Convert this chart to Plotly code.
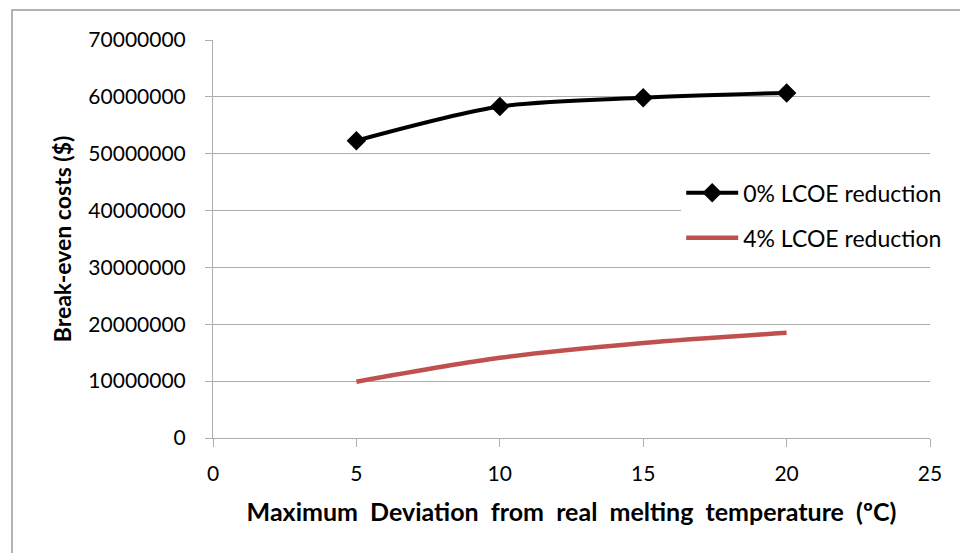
import plotly.graph_objects as go

x_vals = [5, 10, 15, 20]
lcoe0 = [52300000, 58300000, 59850000, 60700000]
lcoe4 = [9900000, 14100000, 16700000, 18500000]
names = ["0% LCOE reduction", "4% LCOE reduction"]
y_ticks = [0, 10000000, 20000000, 30000000, 40000000, 50000000, 60000000, 70000000]
x_ticks = [0, 5, 10, 15, 20, 25]
x_title = "Maximum Deviation from real melting temperature (ºC)"
y_title = "Break-even costs ($)"

FONT = "Lato"
GRID = "#ADADAD"

fig = go.Figure()
fig.add_trace(go.Scatter(
    x=x_vals, y=lcoe0, name=names[0], mode="lines+markers",
    line=dict(color="black", width=4, shape="spline", smoothing=0.8),
    marker=dict(symbol="diamond", size=15, color="black"),
    legendgroup="a"))
fig.add_trace(go.Scatter(
    x=x_vals, y=lcoe4, name=names[1], mode="lines",
    line=dict(color="#C0504D", width=4.5, shape="spline", smoothing=0.8),
    legendgroup="b"))

fig.update_layout(
    width=960, height=553,
    margin=dict(l=213, r=30, t=40, b=115),
    paper_bgcolor="white", plot_bgcolor="white",
    font=dict(family=FONT, size=21, color="black"),
    showlegend=True,
    legend=dict(x=0.653, y=0.67, xanchor="left", yanchor="top",
                bgcolor="white", font=dict(size=23, family=FONT),
                itemwidth=52, tracegroupgap=12),
    xaxis=dict(range=[0, 25], tickvals=x_ticks, ticks="outside", ticklen=8,
               tickcolor=GRID, showgrid=False, showline=True, linecolor=GRID,
               linewidth=1, zeroline=False, ticklabelstandoff=9,
               title=dict(text="<b>" + x_title.replace(" ", " &nbsp;") + "</b>",
                          font=dict(size=25), standoff=19),
               tickfont=dict(size=21)),
    yaxis=dict(range=[0, 70000000], tickvals=y_ticks,
               ticktext=[str(v) for v in y_ticks],
               ticks="outside", ticklen=7, tickcolor=GRID,
               showgrid=True, gridcolor=GRID, gridwidth=1,
               showline=True, linecolor=GRID, linewidth=1, zeroline=False,
               ticklabelstandoff=15,
               title=dict(text="<b>" + y_title + "</b>", font=dict(size=23), standoff=10),
               tickfont=dict(size=21)),
)

fig.add_shape(type="rect", xref="paper", yref="paper",
              x0=(12 - 213) / 717, x1=1.2, y0=-0.5, y1=(438 - 10) / 398,
              line=dict(color="#9A9A9A", width=1.5), fillcolor="rgba(0,0,0,0)", layer="below")

fig.write_html("out.html")
